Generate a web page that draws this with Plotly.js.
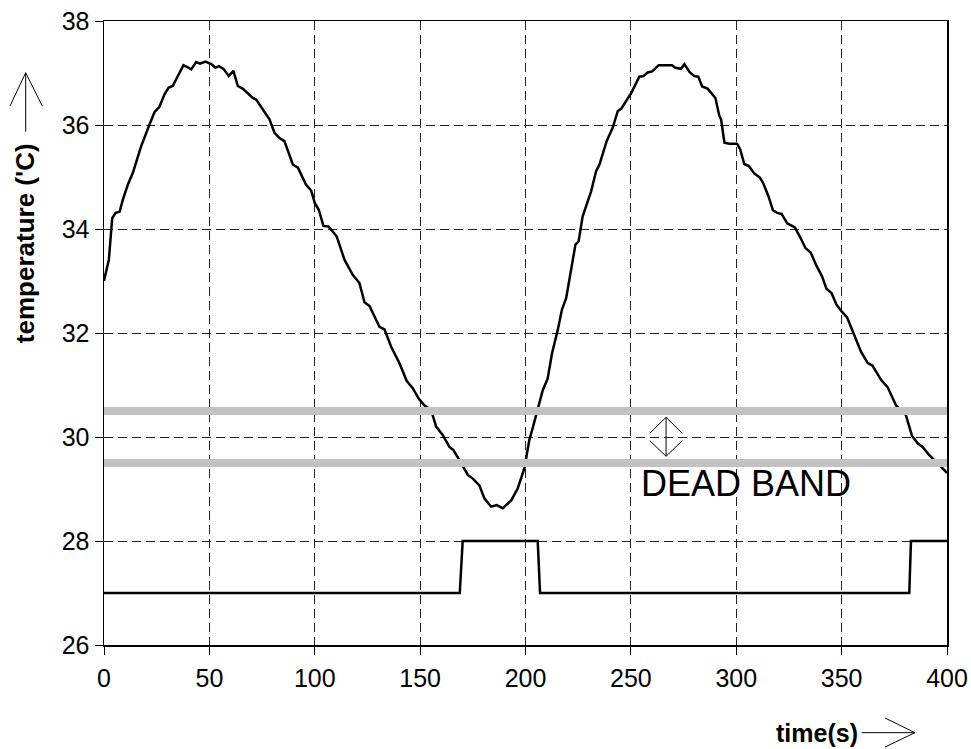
<!DOCTYPE html>
<html>
<head>
<meta charset="utf-8">
<script src="https://cdn.plot.ly/plotly-3.0.1.min.js"></script>
<style>html,body{margin:0;padding:0;background:#fff;}#chart{width:971px;height:749px;}</style>
</head>
<body>
<div id="chart"></div>
<script>
// ---- data ----
const timeTemp = [0,2.3,3.9,5.5,7.4,8.9,11.3,13.7,17.6,20.0,21.6,24.0,26.3,28.7,30.7,32.6,35.8,37.7,39.3,41.4,43.7,45.6,48.1,50.9,52.9,54.5,56.7,59.2,61.4,63.5,65.8,70.6,72.2,75.3,78.5,80.9,83.3,85.6,89.6,92.0,95.9,98.3,100.0,101.9,104.1,106.5,110.4,114.1,118.0,121.2,123.6,126.0,130.7,133.1,136.2,140.2,143.6,146.5,149.3,152.0,155.2,157.6,160.7,163.9,165.8,168.6,172.6,175.0,178.1,180.5,183.7,186.4,189.2,193.2,196.3,199.5,201.8,203.4,205.8,208.2,210.5,212.6,215.3,217.3,219.3,221.2,223.7,225.2,227.1,229.0,231.1,233.5,235.1,238.5,241.4,243.8,245.4,247.7,250.1,254.0,255.9,258.0,260.1,263.2,269.5,271.1,273.8,275.4,277.8,280.1,282.0,283.8,286.4,290.1,292.0,292.8,294.4,296.7,300.4,301.9,303.8,306.0,308.5,311.2,312.7,315.2,317.4,319.4,321.5,324.2,327.8,330.1,332.9,335.3,338.0,340.7,342.8,345.2,347.5,350.3,352.6,355.5,359.2,362.4,364.7,368.7,371.8,375.8,380.5,382.1,383.4,386.1,388.4,391.6,394.8,400];
const temperature = [33.0,33.41,34.21,34.31,34.33,34.56,34.85,35.08,35.59,35.82,36.01,36.25,36.35,36.59,36.72,36.75,37.01,37.15,37.12,37.07,37.21,37.18,37.22,37.17,37.10,37.13,37.08,36.94,37.04,36.75,36.70,36.52,36.49,36.30,36.11,35.85,35.75,35.69,35.24,35.18,34.85,34.74,34.50,34.37,34.06,34.05,33.86,33.41,33.12,32.96,32.59,32.52,32.12,32.07,31.74,31.42,31.08,30.94,30.74,30.61,30.52,30.20,30.04,29.81,29.75,29.56,29.27,29.20,29.07,28.82,28.66,28.69,28.63,28.78,29.01,29.40,29.94,30.17,30.52,30.90,31.12,31.61,32.06,32.45,32.67,33.15,33.70,33.76,34.24,34.47,34.72,35.11,35.24,35.69,35.95,36.27,36.31,36.46,36.61,36.93,36.94,37.01,37.03,37.15,37.15,37.10,37.08,37.17,37.02,36.94,36.93,36.74,36.70,36.52,36.17,36.11,35.66,35.64,35.64,35.53,35.25,35.21,35.07,34.99,34.89,34.64,34.36,34.31,34.29,34.11,34.03,33.86,33.63,33.55,33.30,33.09,32.85,32.77,32.55,32.40,32.30,32.01,31.64,31.42,31.37,31.10,30.96,30.61,30.42,30.20,30.02,29.88,29.81,29.65,29.52,29.31];
const timeHeater = [0,168.8,170.2,205.8,206.9,382.1,382.9,400];
const heaterState = [27,27,28,28,27,27,28,28];
const deadBand = [29.5, 30.5];
const xRange = [0, 400];
const yRange = [26, 38];
const xTickVals = [0,50,100,150,200,250,300,350,400];
const yTickVals = [26,28,30,32,34,36,38];
const yTitle = "temperature ('C)";
const xTitle = "time(s)";
const bandLabel = "DEAD BAND";

// ---- chart ----
const FONT = "'Liberation Sans', Arial, Helvetica, sans-serif";
const traces = [
  {x: timeTemp, y: temperature, mode: 'lines', line: {color: '#000', width: 2.5}, hoverinfo: 'skip'},
  {x: timeHeater, y: heaterState, mode: 'lines', line: {color: '#000', width: 2.5}, hoverinfo: 'skip'}
];
deadBand.forEach(v => traces.push({
  x: xRange, y: [v, v], mode: 'lines', line: {color: '#c2c2c2', width: 8}, hoverinfo: 'skip'
}));

const ax = 266.7, aw = 7.75;
const shapes = [
  // double-headed arrow inside dead band
  {type: 'line', xref: 'x', yref: 'y', x0: ax, x1: ax, y0: 29.63, y1: 30.38, line: {color: '#000', width: 1}},
  {type: 'path', xref: 'x', yref: 'y', path: `M ${ax-aw} 30.07 L ${ax} 30.38 L ${ax+aw} 30.07`, line: {color: '#000', width: 1}},
  {type: 'path', xref: 'x', yref: 'y', path: `M ${ax-aw} 29.93 L ${ax} 29.63 L ${ax+aw} 29.93`, line: {color: '#000', width: 1}},
  // y-title arrow
  {type: 'line', xref: 'paper', yref: 'paper', x0: -0.0929, x1: -0.0929, y0: 0.8226, y1: 0.9171, line: {color: '#000', width: 1}},
  {type: 'path', xref: 'paper', yref: 'paper', path: 'M -0.1115 0.8638 L -0.0929 0.9171 L -0.0732 0.8638', line: {color: '#000', width: 1}},
  // x-title arrow
  {type: 'line', xref: 'paper', yref: 'paper', x0: 0.8988, x1: 0.9620, y0: -0.1405, y1: -0.1405, line: {color: '#000', width: 1}},
  {type: 'path', xref: 'paper', yref: 'paper', path: 'M 0.9265 -0.1170 L 0.9620 -0.1405 L 0.9265 -0.1635', line: {color: '#000', width: 1}}
];

const axisCommon = {
  showgrid: true, gridcolor: '#222', gridwidth: 1, griddash: '9px,5px',
  showline: true, linecolor: '#000', linewidth: 1.5, mirror: true,
  ticks: 'outside', ticklen: 8, tickcolor: '#000', tickwidth: 1,
  zeroline: false, tickfont: {family: FONT, size: 25, color: '#000'}
};

const layout = {
  width: 971, height: 749,
  margin: {l: 104, r: 24, t: 21, b: 104},
  paper_bgcolor: '#fff', plot_bgcolor: '#fff',
  showlegend: false,
  font: {family: FONT, color: '#000'},
  xaxis: Object.assign({}, axisCommon, {range: xRange, tickmode: 'array', tickvals: xTickVals, ticklabelstandoff: 2}),
  yaxis: Object.assign({}, axisCommon, {range: yRange, tickmode: 'array', tickvals: yTickVals, ticklabelstandoff: 0}),
  shapes: shapes,
  annotations: [
    {xref: 'paper', yref: 'paper', x: -0.0937, y: 0.644, text: yTitle, textangle: -90, showarrow: false,
     font: {family: FONT, size: 26, weight: 'bold', color: '#000'}, xanchor: 'center', yanchor: 'middle'},
    {xref: 'paper', yref: 'paper', x: 0.8458, y: -0.141, text: xTitle, showarrow: false,
     font: {family: FONT, size: 25, weight: 'bold', color: '#000'}, xanchor: 'center', yanchor: 'middle'},
    {xref: 'x', yref: 'y', x: 304.5, y: 29.10, text: bandLabel, showarrow: false,
     font: {family: FONT, size: 36, color: '#000'}, xanchor: 'center', yanchor: 'middle'}
  ]
};

Plotly.newPlot('chart', traces, layout, {staticPlot: true, displayModeBar: false});
</script>
</body>
</html>
